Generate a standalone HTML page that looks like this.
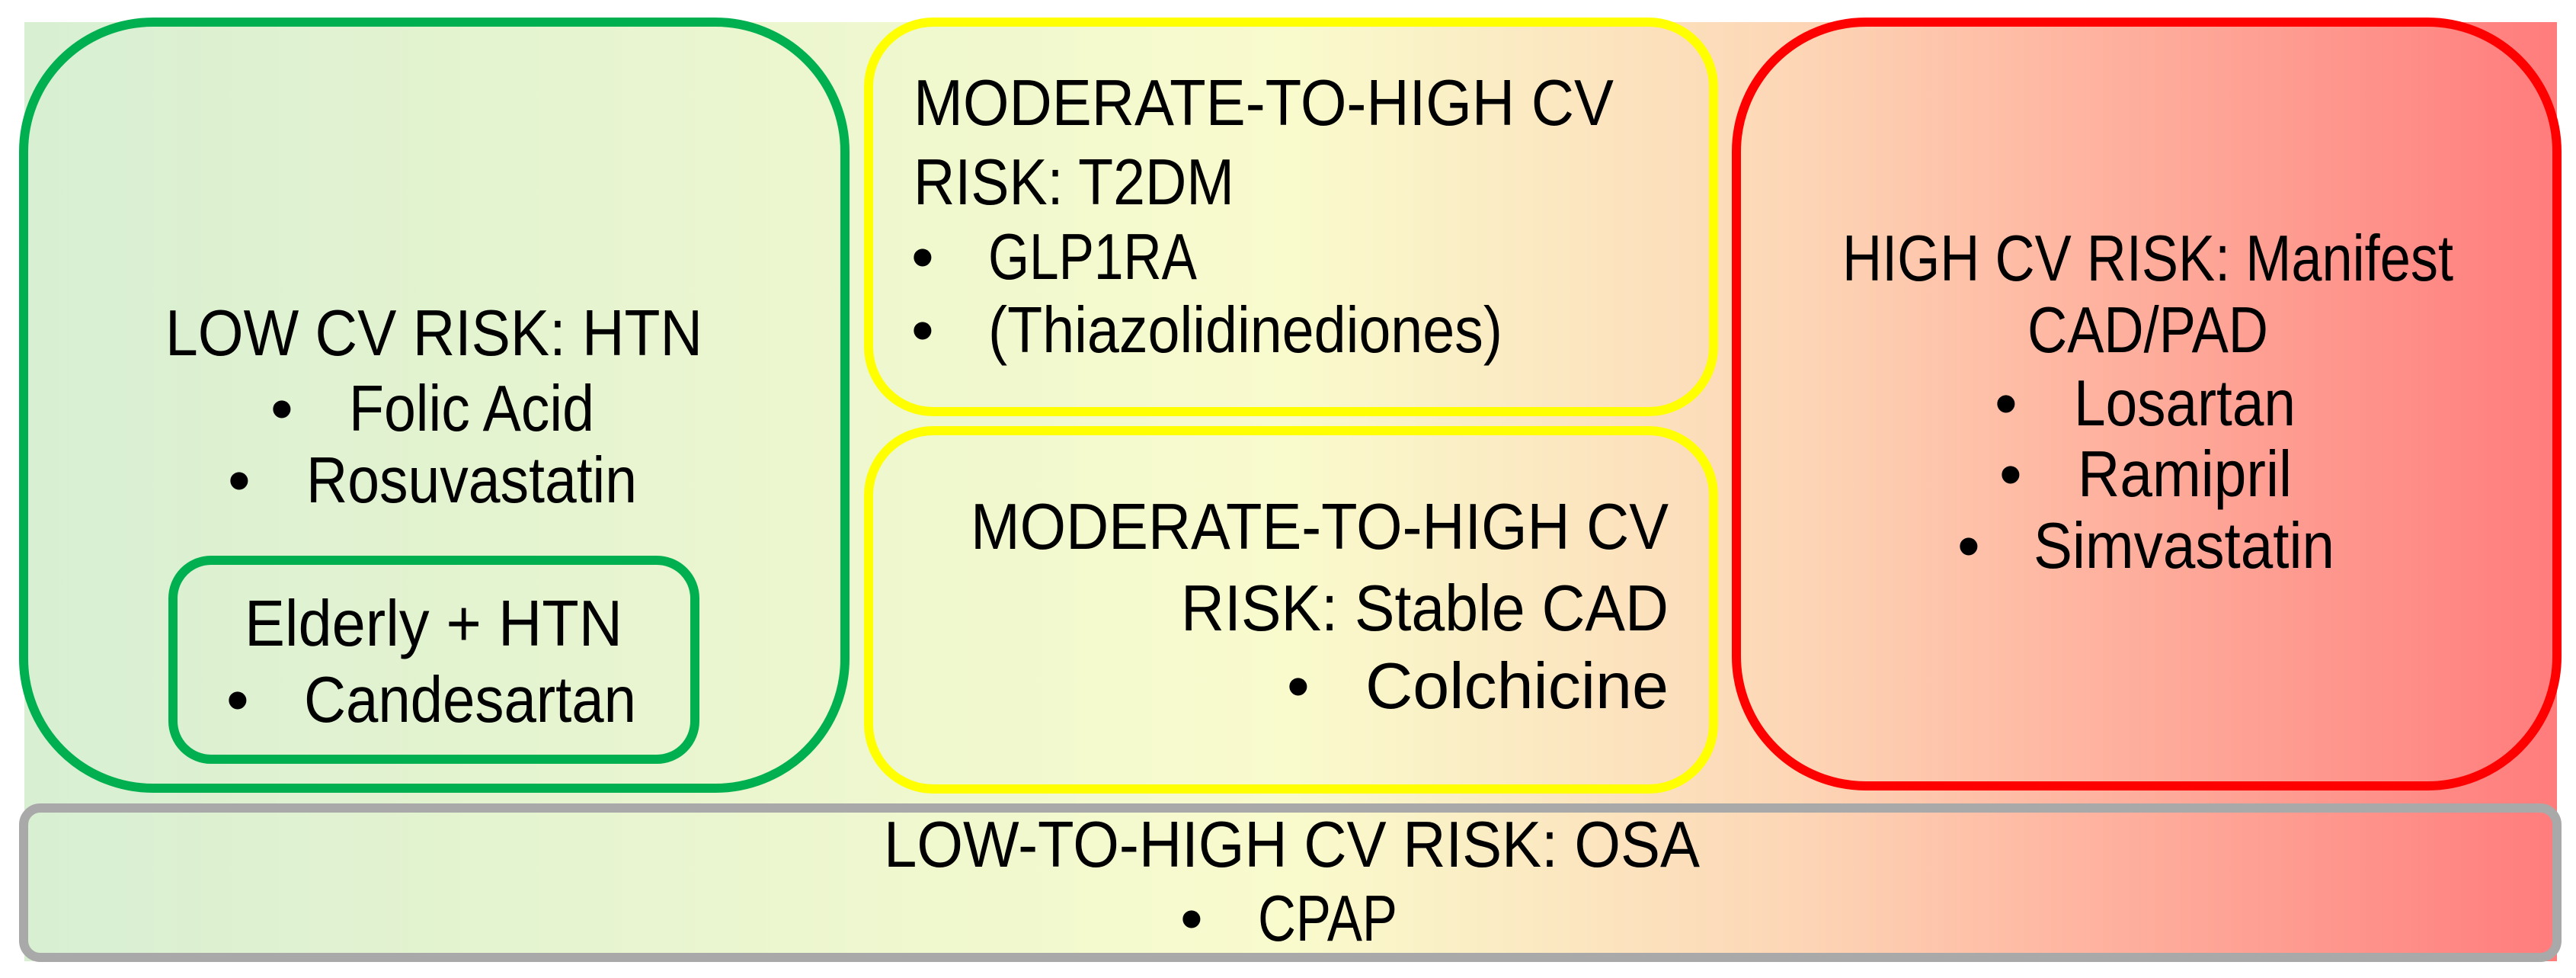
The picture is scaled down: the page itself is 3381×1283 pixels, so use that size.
<!DOCTYPE html>
<html><head><meta charset="utf-8"><style>
html,body{margin:0;padding:0;background:#fff;width:3381px;height:1283px;overflow:hidden}
svg{display:block}
text{font-family:"Liberation Sans",sans-serif;font-size:85px;fill:#000}
</style></head><body>
<svg width="3381" height="1283" viewBox="0 0 3381 1283">
<defs><linearGradient id="bg" x1="0" x2="1" y1="0" y2="0">
<stop offset="0" stop-color="#d8efd2"/><stop offset="0.5" stop-color="#f9fbcd"/>
<stop offset="0.7" stop-color="#fdd6b6"/><stop offset="1" stop-color="#ff7c7c"/></linearGradient></defs>
<rect x="32" y="29" width="3324" height="1232" fill="url(#bg)"/>

<g>
<rect x="31" y="29" width="1078" height="1005" rx="170" fill="none" stroke="#00b050" stroke-width="12"/>
<text x="217" y="466" textLength="705" lengthAdjust="spacingAndGlyphs">LOW CV RISK: HTN</text>
<text x="355" y="565">•</text><text x="458" y="565" textLength="322" lengthAdjust="spacingAndGlyphs">Folic Acid</text>
<text x="299" y="659">•</text><text x="402" y="659" textLength="434" lengthAdjust="spacingAndGlyphs">Rosuvastatin</text>
</g>
<g>
<rect x="227" y="735" width="685" height="261" rx="50" fill="none" stroke="#00b050" stroke-width="12"/>
<text x="321" y="847" textLength="496" lengthAdjust="spacingAndGlyphs">Elderly + HTN</text>
<text x="297" y="947">•</text><text x="399" y="947" textLength="436" lengthAdjust="spacingAndGlyphs">Candesartan</text>
</g>

<g>
<rect x="1140" y="29" width="1109" height="511" rx="85" fill="none" stroke="#ffff00" stroke-width="12"/>
<text x="1199" y="164" textLength="919" lengthAdjust="spacingAndGlyphs">MODERATE-TO-HIGH CV</text>
<text x="1199" y="268" textLength="421" lengthAdjust="spacingAndGlyphs">RISK: T2DM</text>
<text x="1196" y="366">•</text><text x="1297" y="366" textLength="274" lengthAdjust="spacingAndGlyphs">GLP1RA</text>
<text x="1196" y="462">•</text><text x="1297" y="462" textLength="675" lengthAdjust="spacingAndGlyphs">(Thiazolidinediones)</text>
</g>
<g>
<rect x="1140" y="565" width="1109" height="470" rx="85" fill="none" stroke="#ffff00" stroke-width="12"/>
<text x="1274" y="720" textLength="916" lengthAdjust="spacingAndGlyphs">MODERATE-TO-HIGH CV</text>
<text x="1550" y="827" textLength="640" lengthAdjust="spacingAndGlyphs">RISK: Stable CAD</text>
<text x="1689" y="929">•</text><text x="1792" y="929" textLength="398" lengthAdjust="spacingAndGlyphs">Colchicine</text>
</g>

<g>
<rect x="2279" y="29" width="1077" height="1002" rx="170" fill="none" stroke="#ff0000" stroke-width="12"/>
<text x="2418" y="368" textLength="802" lengthAdjust="spacingAndGlyphs">HIGH CV RISK: Manifest</text>
<text x="2661" y="462" textLength="316" lengthAdjust="spacingAndGlyphs">CAD/PAD</text>
<text x="2618" y="558">•</text><text x="2722" y="558" textLength="291" lengthAdjust="spacingAndGlyphs">Losartan</text>
<text x="2624" y="651">•</text><text x="2727" y="651" textLength="281" lengthAdjust="spacingAndGlyphs">Ramipril</text>
<text x="2569" y="745">•</text><text x="2669" y="745" textLength="395" lengthAdjust="spacingAndGlyphs">Simvastatin</text>
</g>

<g>
<rect x="31" y="1060" width="3325" height="196" rx="22" fill="none" stroke="#a9a9a9" stroke-width="12"/>
<text x="1160" y="1137" textLength="1071" lengthAdjust="spacingAndGlyphs">LOW-TO-HIGH CV RISK: OSA</text>
<text x="1549" y="1234">•</text><text x="1651" y="1234" textLength="183" lengthAdjust="spacingAndGlyphs">CPAP</text>
</g>
</svg>
</body></html>
